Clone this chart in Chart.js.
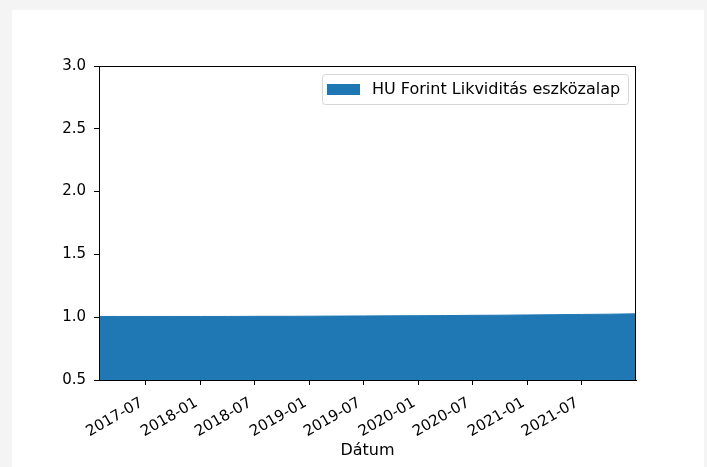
<!DOCTYPE html>
<html>
<head>
<meta charset="utf-8">
<script src="https://cdn.jsdelivr.net/npm/chart.js@4"></script>
<style>
  html, body { margin: 0; padding: 0; background: #f4f4f4; }
  #card { position: absolute; left: 12px; top: 10px; width: 692px; height: 457px; background: #ffffff; }
  #wrap { position: absolute; left: 0; top: 0; width: 707px; height: 467px; }
</style>
</head>
<body>
<div id="card"></div>
<div id="wrap"><canvas id="myChart" width="707" height="467"></canvas></div>
<script>
'use strict';

// data
let seriesName = 'HU Forint Likviditás eszközalap';
let dates = ['2017-01-25', '2017-04-01', '2017-07-01', '2017-10-01', '2018-01-01', '2018-04-01',
  '2018-07-01', '2018-10-01', '2019-01-01', '2019-04-01', '2019-07-01', '2019-10-01',
  '2020-01-01', '2020-04-01', '2020-07-01', '2020-10-01', '2021-01-01', '2021-04-01',
  '2021-07-01', '2021-10-01', '2021-12-31'];
let prices = [1.006, 1.006, 1.006, 1.006, 1.006, 1.006,
  1.007, 1.007, 1.008, 1.009, 1.010, 1.011,
  1.012, 1.013, 1.015, 1.016, 1.018, 1.020,
  1.022, 1.024, 1.027];
let xTickDates = ['2017-07-01', '2018-01-01', '2018-07-01', '2019-01-01', '2019-07-01',
  '2020-01-01', '2020-07-01', '2021-01-01', '2021-07-01'];
let yTicks = [0.5, 1.0, 1.5, 2.0, 2.5, 3.0];

let blue = '#1f77b4';
let tickFont = { family: 'DejaVu Sans', size: 15 };
let labelFont = { family: 'DejaVu Sans', size: 16 };

function toTime(s) {
  return Date.parse(s + 'T00:00:00Z');
}

function fmtDate(t) {
  let d = new Date(t);
  let m = d.getUTCMonth() + 1;
  return d.getUTCFullYear() + '-' + (m < 10 ? '0' + m : m);
}

let points = [];
for (let i = 0; i < dates.length; i++) {
  points.push({ x: toTime(dates[i]), y: prices[i] });
}

// top and right spines + legend drawn inside the plot, like matplotlib
let framePlugin = {
  id: 'frame',
  afterDraw(chart) {
    let c = chart.ctx;
    let a = chart.chartArea;
    c.save();
    c.strokeStyle = '#000000';
    c.lineWidth = 1;
    c.strokeRect(a.left + 0.5, a.top + 0.5, a.right - a.left - 1, a.bottom - a.top);

    // legend
    let bx = 322, by = 74, bw = 306, bh = 30;
    c.fillStyle = 'rgba(255,255,255,0.8)';
    c.strokeStyle = '#d6d6d6';
    c.beginPath();
    c.roundRect(bx + 0.5, by + 0.5, bw, bh, 3);
    c.fill();
    c.stroke();
    c.fillStyle = blue;
    c.fillRect(327, 84, 33, 11);
    c.fillStyle = '#000000';
    c.font = labelFont.size + 'px ' + labelFont.family;
    c.textBaseline = 'alphabetic';
    c.textAlign = 'left';
    c.fillText(seriesName, 372, 94);
    c.restore();
  }
};

let ctx = document.getElementById('myChart').getContext('2d');
let myChart = new Chart(ctx, {
  type: 'line',
  data: {
    datasets: [{
      label: seriesName,
      data: points,
      borderColor: blue,
      backgroundColor: blue,
      borderWidth: 1,
      pointRadius: 0,
      tension: 0,
      fill: 'start'
    }]
  },
  options: {
    responsive: false,
    animation: false,
    layout: { padding: { left: 0, top: 66, right: 71, bottom: 0 } },
    plugins: {
      legend: { display: false },
      tooltip: { enabled: false }
    },
    scales: {
      x: {
        type: 'linear',
        min: toTime(dates[0]),
        max: toTime(dates[dates.length - 1]),
        afterBuildTicks(scale) {
          scale.ticks = xTickDates.map(d => ({ value: toTime(d) }));
        },
        afterFit(scale) {
          scale.height = 87;
        },
        ticks: {
          callback: v => fmtDate(v),
          color: '#000000',
          font: tickFont,
          minRotation: 30,
          maxRotation: 30,
          autoSkip: false,
          padding: 9,
          labelOffset: -4
        },
        grid: { display: true, drawOnChartArea: false, drawTicks: true, tickLength: 5, color: '#000000' },
        border: { display: true, color: '#000000' },
        title: {
          display: true,
          text: 'Dátum',
          color: '#000000',
          font: labelFont,
          padding: { top: 0, bottom: 7 }
        }
      },
      y: {
        min: 0.5,
        max: 3.0,
        afterBuildTicks(scale) {
          scale.ticks = yTicks.map(v => ({ value: v }));
        },
        afterFit(scale) {
          scale.width = 99;
        },
        ticks: {
          callback: v => v.toFixed(1),
          color: '#000000',
          font: tickFont,
          padding: 8
        },
        grid: { display: true, drawOnChartArea: false, drawTicks: true, tickLength: 5, color: '#000000' },
        border: { display: true, color: '#000000' }
      }
    }
  },
  plugins: [framePlugin]
});
</script>
</body>
</html>
